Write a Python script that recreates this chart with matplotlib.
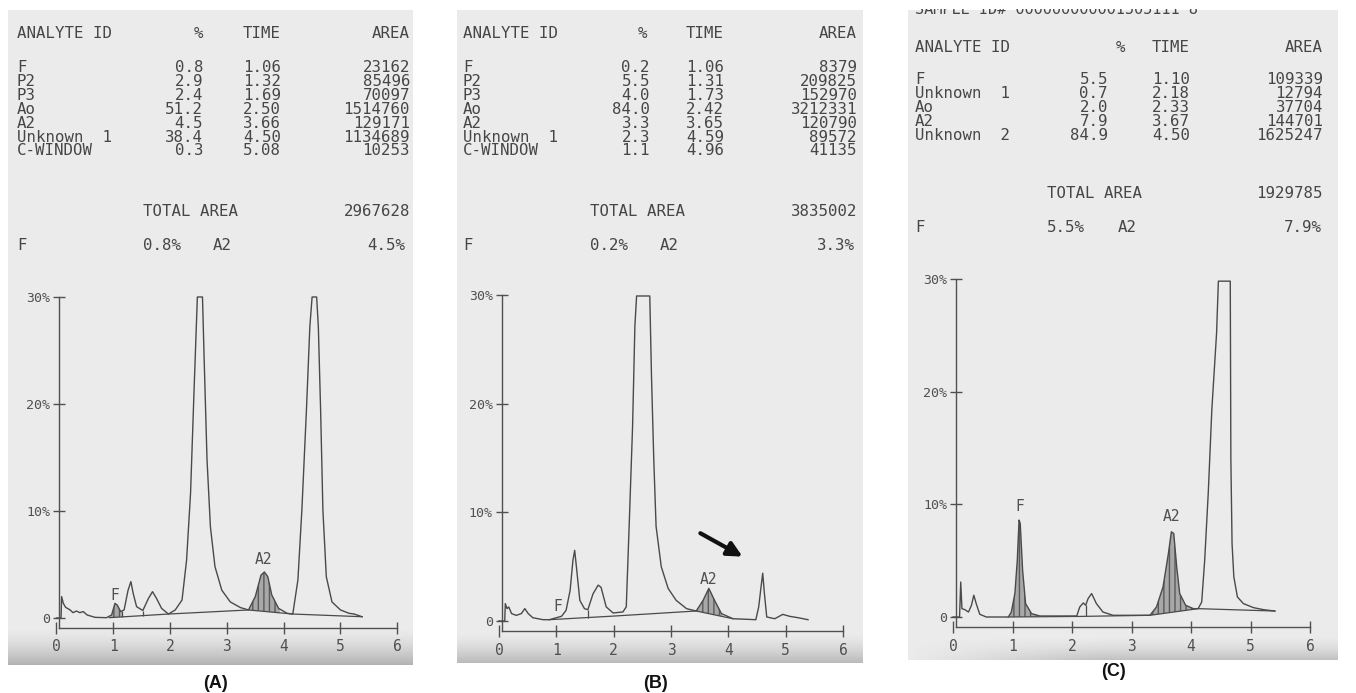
import numpy as np
import matplotlib.pyplot as plt

W, H = 1356, 693
MONO = 'DejaVu Sans Mono'
INK = '#464646'

# ---- chromatogram traces (time in min, signal in %) ----
A_t = [0.0, 0.08, 0.09, 0.12, 0.16, 0.24, 0.29, 0.35, 0.41, 0.47, 0.54, 0.68, 0.88, 0.97, 1.03, 1.07, 1.13, 1.19,
       1.26, 1.31, 1.35, 1.41, 1.52, 1.62, 1.69, 1.76, 1.85, 1.97, 2.09, 2.21, 2.29, 2.36, 2.42, 2.48, 2.57, 2.6,
       2.65, 2.71, 2.79, 2.91, 3.06, 3.24, 3.38, 3.5, 3.6, 3.66, 3.72, 3.79, 3.91, 4.06, 4.16, 4.25, 4.32, 4.4,
       4.46, 4.5, 4.58, 4.61, 4.65, 4.69, 4.75, 4.85, 5.0, 5.15, 5.24, 5.38]
A_s = [0, 0, 2.0, 1.37, 1.0, 0.75, 0.5, 0.65, 0.5, 0.6, 0.28, 0.06, 0.03, 0.28, 1.37, 1.2, 0.6, 0.75,
       2.6, 3.4, 2.3, 1.06, 0.7, 1.84, 2.46, 1.84, 0.9, 0.37, 0.75, 1.68, 5.4, 11.65, 21.0, 30, 30, 24.1,
       14.8, 8.5, 4.8, 2.6, 1.5, 0.97, 0.75, 2.0, 4.0, 4.3, 3.86, 2.15, 0.9, 0.44, 0.37, 3.55, 10.1, 19.4,
       27.2, 30, 30, 27.2, 19.4, 10.1, 3.86, 1.5, 0.75, 0.44, 0.37, 0.12]
A_base_t = [0.93, 1.97, 3.38, 4.16, 5.38]
A_base_s = [0.03, 0.37, 0.75, 0.37, 0.12]

B_t = [0, 0.1, 0.11, 0.14, 0.17, 0.22, 0.3, 0.39, 0.45, 0.51, 0.59, 0.77, 0.88, 1.0, 1.09, 1.17, 1.24, 1.29,
       1.32, 1.35, 1.41, 1.49, 1.55, 1.64, 1.73, 1.78, 1.87, 1.99, 2.16, 2.22, 2.27, 2.33, 2.37, 2.4, 2.63, 2.66,
       2.7, 2.74, 2.83, 2.95, 3.09, 3.27, 3.44, 3.56, 3.66, 3.76, 3.88, 4.08, 4.48, 4.53, 4.57, 4.6, 4.63, 4.67,
       4.81, 4.95, 5.07, 5.22, 5.39]
B_s = [0, 0, 1.6, 1.14, 1.29, 0.68, 0.52, 0.68, 1.14, 0.68, 0.3, 0.12, 0.12, 0.3, 0.43, 0.98, 2.8, 5.6,
       6.5, 5.0, 1.9, 1.14, 1.04, 2.5, 3.3, 3.1, 1.3, 0.74, 0.83, 1.3, 8.7, 17.9, 27.1, 29.9, 29.9, 22.5,
       14.8, 8.7, 5.0, 3.0, 1.9, 1.14, 0.92, 1.9, 3.0, 1.9, 0.68, 0.21, 0.12, 1.3, 3.1, 4.4, 2.5, 0.37,
       0.21, 0.61, 0.43, 0.3, 0.12]
B_base_t = [0.88, 1.99, 3.44, 4.08]
B_base_s = [0.12, 0.45, 0.92, 0.21]

C_t = [0, 0.11, 0.13, 0.15, 0.2, 0.26, 0.31, 0.35, 0.39, 0.45, 0.56, 0.93, 0.98, 1.04, 1.08, 1.11, 1.13, 1.17,
       1.22, 1.32, 1.46, 2.08, 2.13, 2.19, 2.23, 2.27, 2.33, 2.41, 2.52, 2.69, 3.31, 3.42, 3.53, 3.62, 3.67, 3.71,
       3.76, 3.81, 3.91, 4.04, 4.12, 4.18, 4.23, 4.29, 4.35, 4.43, 4.46, 4.66, 4.67, 4.69, 4.72, 4.78, 4.88, 5.05,
       5.22, 5.41]
C_s = [0, 0, 3.1, 0.74, 0.65, 0.44, 1.04, 1.93, 1.19, 0.24, 0, 0, 0.44, 2.08, 5.0, 8.6, 8.3, 4.15,
       1.19, 0.3, 0.09, 0.09, 0.89, 1.25, 1.04, 1.63, 2.08, 1.19, 0.44, 0.15, 0.15, 0.89, 2.67, 5.63, 7.56, 7.41,
       4.45, 2.08, 1.04, 0.74, 0.74, 1.33, 5.04, 11.0, 18.4, 25.2, 29.8, 29.8, 14.0, 6.5, 3.56, 1.78, 1.19, 0.83,
       0.65, 0.53]
C_base_t = [0.93, 2.1, 2.7, 3.31, 4.12, 5.41]
C_base_s = [0, 0.05, 0.1, 0.15, 0.74, 0.53]

# shaded (integrated) peaks and drop lines
A_shade = [(0.95, 1.15), (3.38, 3.93)]
B_shade = [(3.44, 3.9)]
C_shade = [(0.93, 1.4), (3.33, 4.1)]
A_drop = [1.15, 1.52]
B_drop = [1.55]
C_drop = [2.23]
A_peaks = [('F', 1.03, 2.1), ('A2', 3.65, 5.5)]
B_peaks = [('F', 1.03, 1.3), ('A2', 3.65, 3.8)]
C_peaks = [('F', 1.12, 9.8), ('A2', 3.67, 8.9)]

y_ticks = [0, 10, 20, 30]
y_ticklabels = ['0', '10%', '20%', '30%']
x_ticks = [0, 1, 2, 3, 4, 5, 6]

# ---- printed report tables ----
A_ids = ['F', 'P2', 'P3', 'Ao', 'A2', 'Unknown  1', 'C-WINDOW']
A_pct = [0.8, 2.9, 2.4, 51.2, 4.5, 38.4, 0.3]
A_time = [1.06, 1.32, 1.69, 2.50, 3.66, 4.50, 5.08]
A_area = [23162, 85496, 70097, 1514760, 129171, 1134689, 10253]
A_total = 2967628
A_summary = ('0.8%', '4.5%')

B_ids = ['F', 'P2', 'P3', 'Ao', 'A2', 'Unknown  1', 'C-WINDOW']
B_pct = [0.2, 5.5, 4.0, 84.0, 3.3, 2.3, 1.1]
B_time = [1.06, 1.31, 1.73, 2.42, 3.65, 4.59, 4.96]
B_area = [8379, 209825, 152970, 3212331, 120790, 89572, 41135]
B_total = 3835002
B_summary = ('0.2%', '3.3%')

C_ids = ['F', 'Unknown  1', 'Ao', 'A2', 'Unknown  2']
C_pct = [5.5, 0.7, 2.0, 7.9, 84.9]
C_time = [1.10, 2.18, 2.33, 3.67, 4.50]
C_area = [109339, 12794, 37704, 144701, 1625247]
C_total = 1929785
C_summary = ('5.5%', '7.9%')

fig = plt.figure(figsize=(W / 100, H / 100), dpi=100)
fig.patch.set_facecolor('white')
bg = fig.add_axes([0, 0, 1, 1])
bg.axis('off')


def paper(x0, x1, y0, y1, sy0, dark, fade_left=0):
    bg.add_patch(plt.Rectangle((x0, y0), x1 - x0, y1 - y0, color='#ebebeb', lw=0, zorder=0))
    # scanner shadow near the bottom edge
    img = np.zeros((60, 100, 4))
    img[..., :3] = 0.38
    alpha = np.linspace(0, dark, 60)[:, None] ** 1.5 * np.ones((1, 100))
    if fade_left:
        alpha *= np.clip(np.linspace(0, 1, 100) / fade_left, 0, 1)[None, :]
    img[..., 3] = alpha
    bg.imshow(img, extent=(x0, x1, y1, sy0), aspect='auto', interpolation='bilinear', zorder=1)


paper(8, 413, 10, 665, 628, 0.55)
paper(457, 863, 10, 663, 632, 0.5)
paper(908, 1338, 10, 660, 636, 0.45, fade_left=0.45)

# cut-off sample id line on report C
bg.text(915, 9, 'SAMPLE ID# 000000000001505111 8', family=MONO, fontsize=11, color=INK, va='center', zorder=2)
bg.add_patch(plt.Rectangle((900, -5), 456, 14, color='white', lw=0, zorder=3))


def table(ids, pct, time, area, total, summary, lx, pct_hdr, pct_r, time_l, area_r, y_hdr, y0, dy,
          tot_x, y_tot, y_sum, a2_x, sum_r):
    kw = dict(family=MONO, fontsize=11.3, color=INK, va='center')
    bg.text(lx, y_hdr, 'ANALYTE ID', **kw)
    bg.text(pct_hdr, y_hdr, '%', ha='center', **kw)
    bg.text(time_l, y_hdr, 'TIME', **kw)
    bg.text(area_r, y_hdr, 'AREA', ha='right', **kw)
    for i, name in enumerate(ids):
        y = y0 + i * dy
        bg.text(lx, y, name, **kw)
        bg.text(pct_r, y, f'{pct[i]:.1f}', ha='right', **kw)
        bg.text(time_l, y, f'{time[i]:.2f}', **kw)
        bg.text(area_r, y, f'{area[i]}', ha='right', **kw)
    bg.text(tot_x, y_tot, 'TOTAL AREA', **kw)
    bg.text(area_r, y_tot, f'{total}', ha='right', **kw)
    bg.text(lx, y_sum, 'F', **kw)
    bg.text(tot_x, y_sum, summary[0], **kw)
    bg.text(a2_x, y_sum, 'A2', **kw)
    bg.text(sum_r, y_sum, summary[1], ha='right', **kw)


table(A_ids, A_pct, A_time, A_area, A_total, A_summary, 17, 198, 203, 243, 410, 34, 68, 13.8,
      143, 212, 246, 213, 405)
table(B_ids, B_pct, B_time, B_area, B_total, B_summary, 463, 643, 650, 686, 857, 34, 68, 13.8,
      590, 212, 246, 660, 855)
table(C_ids, C_pct, C_time, C_area, C_total, C_summary, 915, 1120, 1108, 1152, 1323, 47, 80, 13.9,
      1047, 193, 228, 1118, 1322)

for lab, x, y in [('(A)', 215, 683), ('(B)', 655, 683), ('(C)', 1113, 672)]:
    bg.text(x, y, lab, ha='center', va='center', fontsize=13, fontweight='bold',
            family='Liberation Sans', color='#111111')

bg.set_xlim(0, W)
bg.set_ylim(H, 0)


def chromatogram(x0, ux, y0, uy, t, s, bt, bs, shades, drops, peaks):
    xl = (-0.25, 6.3)
    yl = (-1.6, 31.0)
    left = x0 + xl[0] * ux
    right = x0 + xl[1] * ux
    bottom = y0 - yl[0] * uy
    top = y0 - yl[1] * uy
    ax = fig.add_axes([left / W, 1 - bottom / H, (right - left) / W, (bottom - top) / H])
    ax.set_xlim(*xl)
    ax.set_ylim(*yl)
    ax.patch.set_alpha(0)
    for side in ['top', 'right']:
        ax.spines[side].set_visible(False)
    ax.spines['left'].set_position(('data', 0.05))
    ax.spines['left'].set_bounds(-0.9, 30)
    ax.spines['bottom'].set_position(('data', -0.9))
    ax.spines['bottom'].set_bounds(0.05, 6)
    for side in ['left', 'bottom']:
        ax.spines[side].set_color('#505050')
        ax.spines[side].set_linewidth(1.0)
    ax.set_yticks(y_ticks)
    ax.set_yticklabels(y_ticklabels)
    ax.set_xticks(x_ticks)
    ax.tick_params(direction='inout', length=9, width=1, color='#505050', labelcolor='#505050',
                   labelsize=10.5)
    ax.tick_params(axis='y', pad=2, labelsize=9.5)
    ax.tick_params(axis='x', pad=4)
    for lbl in ax.get_xticklabels() + ax.get_yticklabels():
        lbl.set_family(MONO)

    for a, b in shades:
        xs = np.linspace(a, b, 200)
        ax.fill_between(xs, np.interp(xs, bt, bs), np.interp(xs, t, s), facecolor='#a8a8a8',
                        edgecolor='#5a5a5a', hatch='|||', linewidth=0)
    ax.plot(t, s, color='#4a4a4a', lw=1.0)
    ax.plot(bt, bs, color='#4a4a4a', lw=0.9)
    ax.vlines(drops, np.interp(drops, bt, bs), np.interp(drops, t, s), color='#4a4a4a', lw=0.9)
    for name, px, py in peaks:
        ax.text(px, py, name, ha='center', va='center', family=MONO, fontsize=10.5, color='#505050')
    return ax


chromatogram(56.5, 56.8, 618, 10.7, A_t, A_s, A_base_t, A_base_s, A_shade, A_drop, A_peaks)
axB = chromatogram(499, 57.33, 621, 10.87, B_t, B_s, B_base_t, B_base_s, B_shade, B_drop, B_peaks)
chromatogram(953, 59.5, 617, 11.27, C_t, C_s, C_base_t, C_base_s, C_shade, C_drop, C_peaks)

axB.annotate('', xy=(4.29, 5.8), xytext=(3.47, 8.2),
             arrowprops=dict(arrowstyle='-|>', lw=3, color='#111111', mutation_scale=22))

fig.savefig('out.png', dpi=100)
